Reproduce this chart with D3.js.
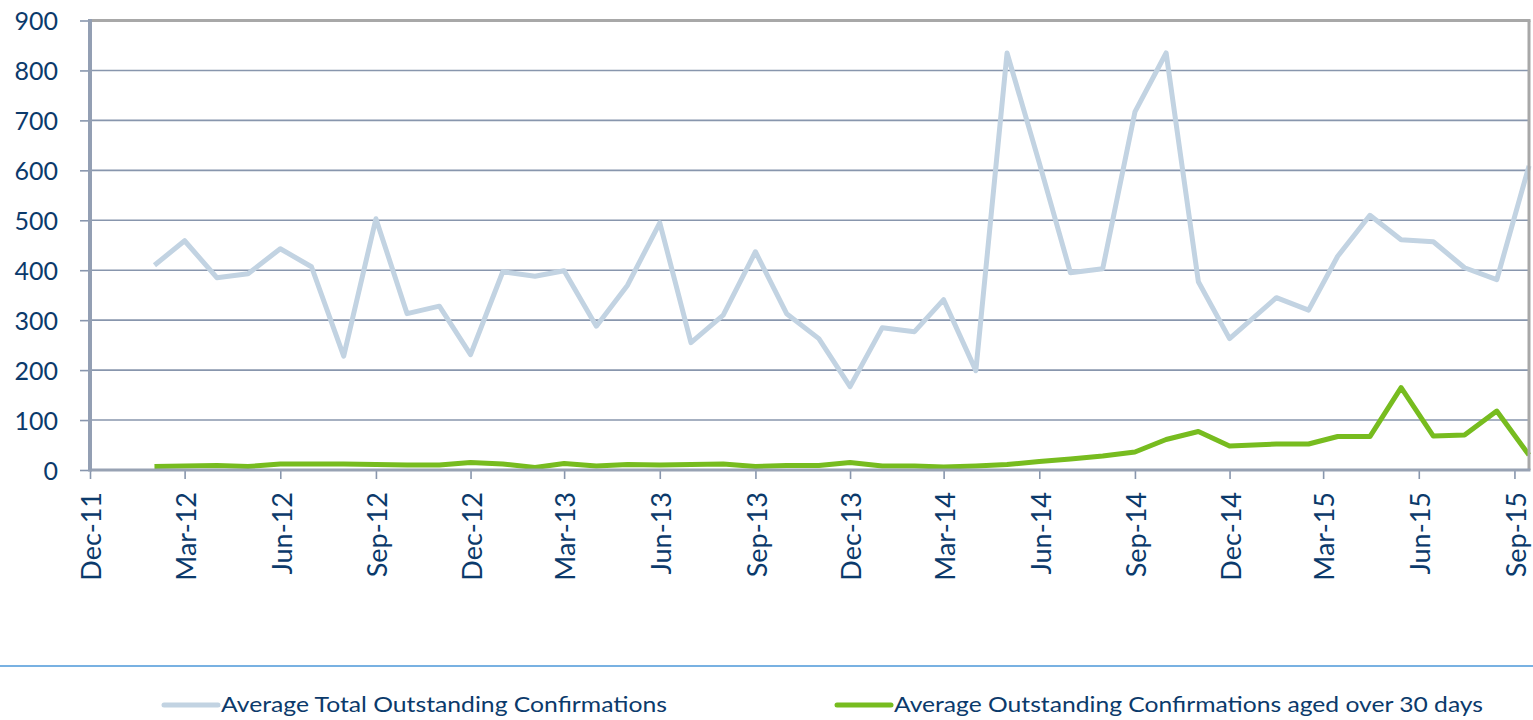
<!DOCTYPE html>
<html><head><meta charset="utf-8">
<script src="https://cdn.jsdelivr.net/npm/d3@7"></script>
<style>
html,body{margin:0;padding:0;background:#fff;}
svg{display:block;}
text{font-family:Lato,"Open Sans",sans-serif;}
</style></head>
<body>
<svg id="chart" width="1533" height="720"></svg>
<script>
// ---- data ----
const dates = [
"2012-02-01","2012-03-01","2012-04-01","2012-05-01","2012-06-01","2012-07-01","2012-08-01","2012-09-01","2012-10-01","2012-11-01","2012-12-01",
"2013-01-01","2013-02-01","2013-03-01","2013-04-01","2013-05-01","2013-06-01","2013-07-01","2013-08-01","2013-09-01","2013-10-01","2013-11-01","2013-12-01",
"2014-01-01","2014-02-01","2014-03-01","2014-04-01","2014-05-01","2014-06-01","2014-07-01","2014-08-01","2014-09-01","2014-10-01","2014-11-01","2014-12-01",
"2015-01-15","2015-02-15","2015-03-15","2015-04-15","2015-05-15","2015-06-15","2015-07-15","2015-08-15","2015-09-15"];
const totalOutstanding = [
410,459,385,393,443,407,228,503,313,328,231,
397,388,399,288,370,495,255,310,437,313,263,167,
285,277,341,199,835,615,395,403,717,835,377,263,
345,320,428,510,461,457,405,381,609];
const agedOver30 = [
7,8,9,7,12,12,12,11,10,10,15,
12,5,13,8,11,10,11,12,7,9,9,15,
8,8,6,8,11,17,22,28,36,61,77,48,
52,52,67,67,165,68,70,118,30];
const tickLabels = ["Dec-11","Mar-12","Jun-12","Sep-12","Dec-12","Mar-13","Jun-13","Sep-13","Dec-13","Mar-14","Jun-14","Sep-14","Dec-14","Mar-15","Jun-15","Sep-15"];
const yTicks = [0,100,200,300,400,500,600,700,800,900];
const seriesNames = ["Average Total Outstanding Confirmations","Average Outstanding Confirmations aged over 30 days"];
const domainStart = "2011-12-01", domainEnd = "2015-09-15";

// ---- layout ----
const L = 90, R = 1529, T = 20.5, B = 470;
const navy = "#0b3a6b", grid = "#8896ad";
const parseISO = d3.timeParse("%Y-%m-%d");
const parseTick = d3.timeParse("%b-%y");
const x = d3.scaleTime().domain([parseISO(domainStart), parseISO(domainEnd)]).range([L, R]);
const y = d3.scaleLinear().domain([0, 900]).range([B, T]);
const svg = d3.select("#chart");

// gridlines
svg.append("g").selectAll("line").data(yTicks.filter(v => v > 0 && v < 900)).join("line")
  .attr("x1", L).attr("x2", R).attr("y1", d => y(d)).attr("y2", d => y(d))
  .attr("stroke", grid).attr("stroke-width", 1.6);

// y axis
const yAxis = svg.append("g").attr("transform", `translate(${L},0)`)
  .call(d3.axisLeft(y).tickValues(yTicks).tickSize(10).tickPadding(22));
yAxis.select(".domain").remove();
yAxis.selectAll(".tick line").attr("stroke", grid).attr("stroke-width", 1.6);
yAxis.selectAll(".tick text").attr("fill", navy).style("font-size", "25px").attr("dy", "0.36em");

// x axis
const tickDates = tickLabels.map(s => parseTick(s));
const fmt = d3.timeFormat("%b-%y");
const xAxis = svg.append("g").attr("transform", `translate(0,${B})`)
  .call(d3.axisBottom(x).tickValues(tickDates).tickFormat(fmt).tickSize(9).tickPadding(0));
xAxis.select(".domain").remove();
xAxis.selectAll(".tick line").attr("stroke", grid).attr("stroke-width", 1.6);
xAxis.selectAll(".tick text").attr("fill", navy).style("font-size", "27px")
  .attr("text-anchor", "end").attr("transform", "rotate(-90)")
  .attr("x", -22).attr("y", 1).attr("dy", "0.36em");

// lines
const line = vals => d3.line().x((d, i) => x(parseISO(dates[i]))).y(d => y(d))(vals);
svg.append("path").attr("d", line(totalOutstanding)).attr("fill", "none")
  .attr("stroke", "#c2d3e2").attr("stroke-width", 5).attr("stroke-linejoin", "round");
svg.append("path").attr("d", line(agedOver30)).attr("fill", "none")
  .attr("stroke", "#77bc1f").attr("stroke-width", 5).attr("stroke-linejoin", "round");

// borders
svg.append("line").attr("x1", L).attr("x2", R + 1.5).attr("y1", T).attr("y2", T).attr("stroke", "#a8a8a8").attr("stroke-width", 3);
svg.append("line").attr("x1", R).attr("x2", R).attr("y1", T).attr("y2", B).attr("stroke", "#a8a8a8").attr("stroke-width", 3);
svg.append("line").attr("x1", L).attr("x2", R + 1.5).attr("y1", B).attr("y2", B).attr("stroke", "#98a2b3").attr("stroke-width", 3);
svg.append("line").attr("x1", L).attr("x2", L).attr("y1", T - 1.5).attr("y2", B + 1.5).attr("stroke", "#939fb3").attr("stroke-width", 4);

// separator
svg.append("line").attr("x1", 0).attr("x2", 1533).attr("y1", 666).attr("y2", 666).attr("stroke", "#78b1e2").attr("stroke-width", 2);

// legend
const legendItems = [
  {name: seriesNames[0], color: "#c2d3e2", sx: 162, tx: 221, w: 446},
  {name: seriesNames[1], color: "#77bc1f", sx: 835, tx: 894, w: 589}
];
const lg = svg.append("g");
legendItems.forEach(it => {
  lg.append("line").attr("x1", it.sx + 2).attr("x2", it.sx + 56).attr("y1", 705).attr("y2", 705)
    .attr("stroke", it.color).attr("stroke-width", 5).attr("stroke-linecap", "round");
  lg.append("text").attr("x", it.tx).attr("y", 705).attr("dy", "0.35em")
    .attr("fill", navy).style("font-size", "21px")
    .attr("textLength", it.w).attr("lengthAdjust", "spacingAndGlyphs").text(it.name);
});
</script>
</body></html>
